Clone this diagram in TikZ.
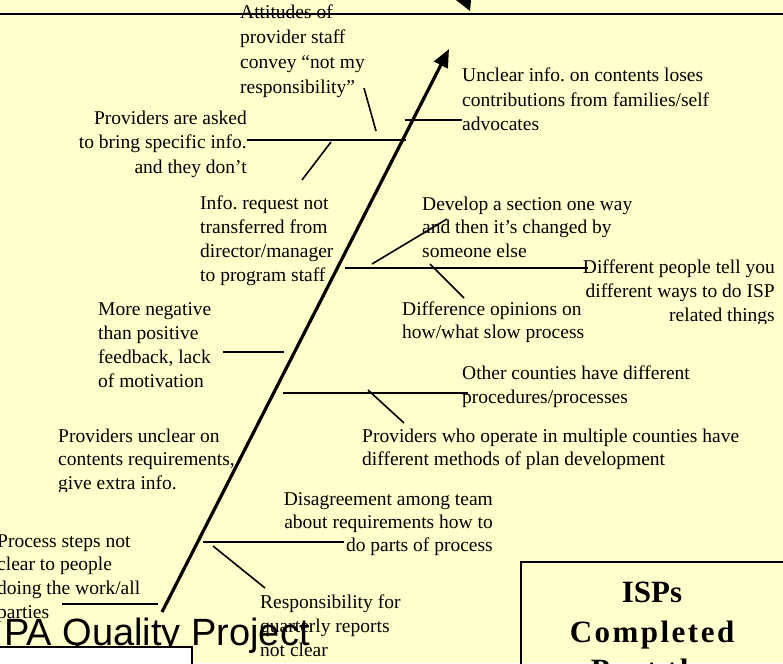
\documentclass[tikz,border=0pt]{standalone}
\usepackage{fontspec}
\setmainfont{Liberation Serif}
\newfontfamily\titlefont{Liberation Sans}
\newfontfamily\spacedfont[LetterSpace=8]{Liberation Serif}
\usetikzlibrary{arrows.meta}
\definecolor{bg}{HTML}{FFFFCC}
\frenchspacing
\newcommand\Lblock[2][24]{\vtop{\baselineskip=#1pt\lineskiplimit=-100pt\lineskip=0pt\halign{##\hfil\cr #2\crcr}}}
\newcommand\Rblock[2][24]{\vtop{\baselineskip=#1pt\lineskiplimit=-100pt\lineskip=0pt\halign{\hfil##\cr #2\crcr}}}
\tikzset{
  lbl/.style={inner sep=0pt, anchor=base west, font=\fontsize{19.5}{24}\selectfont},
  rlbl/.style={inner sep=0pt, anchor=base east, font=\fontsize{19.5}{24}\selectfont},
  bone/.style={line width=2pt},
  twig/.style={line width=1.6pt},
  spine/.style={line width=3.2pt, -{Triangle[length=18pt,width=15pt]}},
  boxtxt/.style={inner sep=0pt, anchor=base, font=\fontsize{31}{40}\selectfont\bfseries}
}
\begin{document}
\begin{tikzpicture}[x=1pt,y=-1pt]
\clip (0,0) rectangle (783,663);
\fill[bg] (0,0) rectangle (783,663);

% top line and arrow tip fragment
\coordinate (tl) at (0,14);
\coordinate (tr) at (783,14);
\draw[line width=2pt] (tl) -- (tr);
\fill (456,0) -- (471,0) -- (470,11) -- cycle;

% texts
\node[lbl] (attitudes) at (240,19) {\Lblock[25]{Attitudes of\cr provider staff\cr convey “not my\cr responsibility”}};
\node[rlbl] (asked) at (247,125) {\Rblock{Providers are asked\cr to bring specific info.\cr and they don’t}};
\node[lbl] (inforeq) at (200,209) {\Lblock{Info. request not\cr transferred from\cr director/manager\cr to program staff}};
\node[lbl] (negative) at (98,315) {\Lblock{More negative\cr than positive\cr feedback, lack\cr of motivation}};
\begin{scope}
\clip (0,0) rectangle (400,491);
\node[lbl] (unclearon) at (58,442) {\Lblock[23.5]{Providers unclear on\cr contents requirements,\cr give extra info.}};
\end{scope}
\node[lbl] (process) at (-3,547) {\Lblock[23.7]{Process steps not\cr clear to people\cr doing the work/all\cr parties}};
\node[lbl] (unclearinfo) at (462,82) {\Lblock[24.5]{Unclear info. on contents loses\cr contributions from families/self\cr advocates}};
\node[lbl] (develop) at (422,210) {\Lblock[23.5]{Develop a section one way\cr and then it’s changed by\cr someone else}};
\begin{scope}
\clip (500,240) rectangle (783,323);
\node[rlbl] (diffpeople) at (775,273) {\Rblock{Different people tell you\cr different ways to do ISP\cr related things}};
\end{scope}
\node[lbl] (difference) at (402,315) {\Lblock[23]{Difference opinions on\cr how/what slow process}};
\node[lbl] (othercounties) at (462,379) {\Lblock{Other counties have different\cr procedures/processes}};
\node[lbl] (multiple) at (362,442) {\Lblock[23]{Providers who operate in multiple counties have\cr different methods of plan development}};
\node[rlbl] (disagree) at (493,505) {\Rblock[23]{Disagreement among team\cr about requirements how to\cr do parts of process}};
\node[lbl] (respons) at (260,608) {\Lblock{Responsibility for\cr quarterly reports\cr not clear}};

% title and boxes
\node[inner sep=0pt, anchor=base west, font=\titlefont\fontsize{38}{40}\selectfont] (title) at (4,645) {PA Quality Project};
\draw[line width=1.5pt, fill=white] (-5,647) rectangle (192,680);
\draw[line width=1.8pt] (521,562) rectangle (800,700);
\node[boxtxt] (isps) at (652,602) {ISPs};
\node[boxtxt, font=\fontsize{31}{40}\selectfont\spacedfont\bfseries] (completed) at (652,642) {Completed};
\node[boxtxt, font=\fontsize{31}{40}\selectfont\spacedfont\bfseries] (partthe) at (652,680) {Part the};

% spine
\coordinate (tail) at (162,612);
\coordinate (head) at (449,49);
\draw[spine] (tail) -- (head);

% branch coordinates
\coordinate (a1) at (247,140); \coordinate (a2) at (406,140);
\coordinate (b1) at (405,120); \coordinate (b2) at (462,120);
\coordinate (c1) at (364,88);  \coordinate (c2) at (376,131);
\coordinate (d1) at (302,180); \coordinate (d2) at (331,142);
\coordinate (e1) at (345,268); \coordinate (e2) at (588,268);
\coordinate (f1) at (372,264); \coordinate (f2) at (447,219);
\coordinate (g1) at (430,264); \coordinate (g2) at (464,298);
\coordinate (h1) at (223,352); \coordinate (h2) at (284,352);
\coordinate (i1) at (283,393); \coordinate (i2) at (468,393);
\coordinate (j1) at (368,390); \coordinate (j2) at (404,423);
\coordinate (k1) at (203,542); \coordinate (k2) at (344,542);
\coordinate (l1) at (213,546); \coordinate (l2) at (265,588);
\coordinate (m1) at (62,604);  \coordinate (m2) at (158,604);

\draw[bone] (a1) -- (a2);
\draw[bone] (b1) -- (b2);
\draw[twig] (c1) -- (c2);
\draw[twig] (d1) -- (d2);
\draw[bone] (e1) -- (e2);
\draw[twig] (f1) -- (f2);
\draw[twig] (g1) -- (g2);
\draw[bone] (h1) -- (h2);
\draw[bone] (i1) -- (i2);
\draw[twig] (j1) -- (j2);
\draw[bone] (k1) -- (k2);
\draw[twig] (l1) -- (l2);
\draw[bone] (m1) -- (m2);
\end{tikzpicture}
\end{document}
